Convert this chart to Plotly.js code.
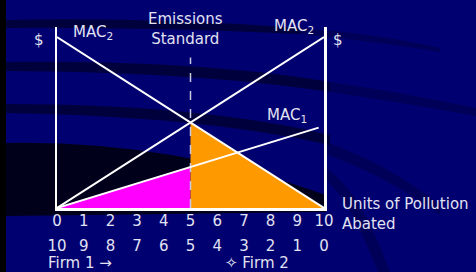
<!DOCTYPE html>
<html>
<head>
<meta charset="utf-8">
<script src="https://cdn.plot.ly/plotly-3.0.1.min.js"></script>
<style>html,body{margin:0;padding:0;background:#000070;}#chart{width:476px;height:272px;}</style>
</head>
<body>
<div id="chart"></div>
<script>
// ---- data ----
const abatementTicks = [0, 1, 2, 3, 4, 5, 6, 7, 8, 9, 10];
const firm1Labels = ['0', '1', '2', '3', '4', '5', '6', '7', '8', '9', '10'];
const firm2Labels = ['10', '9', '8', '7', '6', '5', '4', '3', '2', '1', '0'];
const mac2DownX = [0, 10];
const mac2DownY = [10, 0];
const mac2UpX = [0, 10];
const mac2UpY = [0, 10];
const mac1X = [0, 9.8];
const mac1Y = [0, 4.7];
const standardX = [5, 5];
const standardY = [0, 8.8];
const orangeX = [5, 5, 10];
const orangeY = [0, 5, 0];
const magentaX = [0, 5, 5];
const magentaY = [0, 2.4, 0];

// ---- layout helpers (pixel -> paper) ----
const W = 476, H = 272;
const px = x => x / W;
const py = y => 1 - y / H;
const pt = (x, y) => px(x).toFixed(4) + ',' + py(y).toFixed(4);

const txtColor = '#e2e2f2';
const font = {family: 'DejaVu Sans', size: 15, color: txtColor};

const traces = [
  {x: magentaX, y: magentaY, type: 'scatter', mode: 'lines', fill: 'toself',
   fillcolor: '#ff00ff', line: {width: 0, color: '#ff00ff'}, hoverinfo: 'skip'},
  {x: orangeX, y: orangeY, type: 'scatter', mode: 'lines', fill: 'toself',
   fillcolor: '#ff9900', line: {width: 0, color: '#ff9900'}, hoverinfo: 'skip'},
  {x: standardX, y: standardY, type: 'scatter', mode: 'lines',
   line: {color: '#c8c8e0', width: 1.5, dash: 'dash'}, hoverinfo: 'skip'},
  {x: mac2DownX, y: mac2DownY, type: 'scatter', mode: 'lines',
   line: {color: '#ffffff', width: 2}, hoverinfo: 'skip'},
  {x: mac2UpX, y: mac2UpY, type: 'scatter', mode: 'lines',
   line: {color: '#ffffff', width: 2}, hoverinfo: 'skip'},
  {x: mac1X, y: mac1Y, type: 'scatter', mode: 'lines',
   line: {color: '#ffffff', width: 2}, hoverinfo: 'skip'},
  {x: [0], y: [0], xaxis: 'x2', type: 'scatter', mode: 'markers',
   marker: {opacity: 0}, hoverinfo: 'skip'}
];

const dark = 'rgba(0,0,12,0.85)';
const mid = 'rgba(0,0,20,0.55)';
const faint = 'rgba(0,0,30,0.28)';
const shapes = [
  {type: 'rect', xref: 'paper', yref: 'paper', x0: 0, x1: px(6), y0: 0, y1: 1,
   fillcolor: '#000000', line: {width: 0}, layer: 'below'},
  {type: 'path', xref: 'paper', yref: 'paper', layer: 'below', fillcolor: mid, line: {width: 0},
   path: 'M' + pt(6, 20) + ' Q' + pt(150, 17) + ' ' + pt(300, 28) + ' L' + pt(300, 34) + ' Q' + pt(150, 27) + ' ' + pt(6, 28) + ' Z'},
  {type: 'path', xref: 'paper', yref: 'paper', layer: 'below', fillcolor: faint, line: {width: 0},
   path: 'M' + pt(300, 28) + ' Q' + pt(380, 34) + ' ' + pt(440, 48) + ' L' + pt(440, 52) + ' Q' + pt(380, 42) + ' ' + pt(300, 34) + ' Z'},
  {type: 'path', xref: 'paper', yref: 'paper', layer: 'below', fillcolor: mid, line: {width: 0},
   path: 'M' + pt(6, 62) + ' Q' + pt(200, 60) + ' ' + pt(330, 82) + ' L' + pt(330, 92) + ' Q' + pt(200, 72) + ' ' + pt(6, 71) + ' Z'},
  {type: 'path', xref: 'paper', yref: 'paper', layer: 'below', fillcolor: faint, line: {width: 0},
   path: 'M' + pt(330, 82) + ' Q' + pt(400, 92) + ' ' + pt(476, 108) + ' L' + pt(476, 116) + ' Q' + pt(400, 102) + ' ' + pt(330, 92) + ' Z'},
  {type: 'path', xref: 'paper', yref: 'paper', layer: 'below', fillcolor: mid, line: {width: 0},
   path: 'M' + pt(6, 104) + ' Q' + pt(200, 104) + ' ' + pt(330, 135) + ' L' + pt(330, 145) + ' Q' + pt(200, 116) + ' ' + pt(6, 113) + ' Z'},
  {type: 'path', xref: 'paper', yref: 'paper', layer: 'below', fillcolor: dark, line: {width: 0},
   path: 'M' + pt(6, 143) + ' Q' + pt(170, 140) + ' ' + pt(326, 195) + ' L' + pt(326, 212) + ' L' + pt(6, 216) + ' Z'},
  {type: 'path', xref: 'paper', yref: 'paper', layer: 'below', fillcolor: faint, line: {width: 0},
   path: 'M' + pt(326, 142) + ' Q' + pt(390, 165) + ' ' + pt(440, 205) + ' L' + pt(440, 215) + ' Q' + pt(390, 178) + ' ' + pt(326, 154) + ' Z'},
  {type: 'path', xref: 'paper', yref: 'paper', layer: 'below', fillcolor: faint, line: {width: 0},
   path: 'M' + pt(326, 168) + ' Q' + pt(360, 190) + ' ' + pt(390, 272) + ' L' + pt(378, 272) + ' Q' + pt(350, 200) + ' ' + pt(326, 180) + ' Z'}
];

const ann = (text, x, y, xanchor, extra) => Object.assign({
  text: text, x: px(x), y: py(y), xref: 'paper', yref: 'paper',
  xanchor: xanchor, yanchor: 'middle', showarrow: false, font: font
}, extra || {});

const annotations = [
  ann('$', 39, 40, 'center'),
  ann('MAC<sub>2</sub>', 71, 32, 'left'),
  ann('Emissions<br>Standard', 185, 29, 'center'),
  ann('MAC<sub>2</sub>', 272, 27, 'left'),
  ann('$', 338, 40, 'center'),
  ann('MAC<sub>1</sub>', 265, 115, 'left'),
  ann('Units of Pollution<br>Abated', 340, 214, 'left', {align: 'left'}),
  ann('Firm 1 →', 46, 263, 'left'),
  ann('✧ Firm 2', 223, 263, 'left')
];

const layout = {
  width: W, height: H,
  margin: {l: 0, r: 0, t: 0, b: 0},
  paper_bgcolor: '#000070',
  plot_bgcolor: 'rgba(0,0,0,0)',
  showlegend: false,
  font: font,
  xaxis: {
    domain: [px(57), px(324)], range: [0, 10], anchor: 'y',
    tickvals: abatementTicks, ticktext: firm1Labels, ticks: '',
    ticklabelstandoff: -3,
    showgrid: false, zeroline: false, showline: true, linecolor: '#ffffff', linewidth: 2.5,
    tickfont: font, fixedrange: true
  },
  xaxis2: {
    domain: [px(57), px(324)], range: [0, 10], anchor: 'free', overlaying: 'x',
    position: py(235), side: 'bottom',
    tickvals: abatementTicks, ticktext: firm2Labels, ticks: '',
    showgrid: false, zeroline: false, showline: false,
    tickfont: font, fixedrange: true
  },
  yaxis: {
    domain: [py(208), py(27)], range: [0, 10.585], anchor: 'x',
    showticklabels: false, ticks: '', showgrid: false, zeroline: false,
    showline: true, mirror: true, linecolor: '#ffffff', linewidth: 2.5, fixedrange: true
  },
  shapes: shapes,
  annotations: annotations
};

Plotly.newPlot('chart', traces, layout, {displayModeBar: false, staticPlot: true});
</script>
</body>
</html>
